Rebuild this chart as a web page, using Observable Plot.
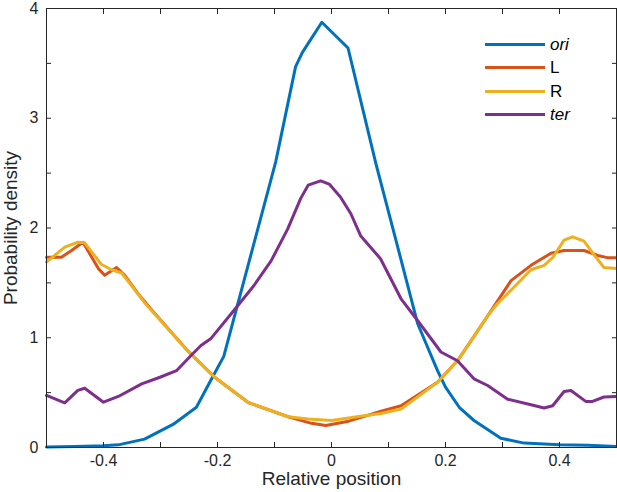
<!DOCTYPE html>
<html>
<head>
<meta charset="utf-8">
<script src="https://cdn.jsdelivr.net/npm/d3@7"></script>
<script src="https://cdn.jsdelivr.net/npm/@observablehq/plot@0.6"></script>
<style>
  html, body { margin: 0; padding: 0; background: #fff; }
  #wrap { position: relative; width: 617px; height: 492px; font-family: "Liberation Sans", Arial, sans-serif; }
  #legend { position: absolute; left: 485px; top: 33px; }
  .row { display: flex; align-items: center; height: 23.3px; }
  .sw { width: 60px; height: 3px; margin-right: 5px; }
  .lab { font-size: 17px; color: #000; line-height: 1; }
</style>
</head>
<body>
<div id="wrap"><div id="legend"></div></div>
<script>
// ---- data ----
const seriesNames = ["ori", "L", "R", "ter"];
const seriesColors = ["#0072BD", "#D95319", "#EDB120", "#7E2F8E"];

const oriX = [-0.5, -0.45, -0.4, -0.374, -0.328, -0.278, -0.237, -0.211, -0.189, -0.098, -0.063, -0.051, -0.017, 0.029, 0.078, 0.113, 0.151, 0.186, 0.2, 0.225, 0.25, 0.297, 0.338, 0.4, 0.45, 0.5];
const oriY = [0.005, 0.01, 0.015, 0.024, 0.076, 0.21, 0.367, 0.62, 0.83, 2.6, 3.47, 3.6, 3.875, 3.64, 2.585, 1.89, 1.13, 0.7, 0.55, 0.36, 0.246, 0.085, 0.04, 0.025, 0.02, 0.01];

const lX = [-0.5, -0.474, -0.456, -0.436, -0.409, -0.398, -0.377, -0.363, -0.339, -0.31, -0.252, -0.205, -0.146, -0.076, -0.035, -0.01, 0.03, 0.087, 0.122, 0.186, 0.221, 0.247, 0.274, 0.315, 0.35, 0.385, 0.408, 0.443, 0.467, 0.484, 0.5];
const lY = [1.734, 1.734, 1.795, 1.87, 1.63, 1.57, 1.64, 1.57, 1.4, 1.22, 0.88, 0.64, 0.41, 0.28, 0.22, 0.2, 0.24, 0.33, 0.38, 0.595, 0.79, 0.99, 1.2, 1.52, 1.66, 1.77, 1.795, 1.795, 1.75, 1.73, 1.73];

const rX = [-0.5, -0.468, -0.445, -0.433, -0.404, -0.386, -0.368, -0.351, -0.328, -0.252, -0.205, -0.146, -0.076, -0.041, 0, 0.057, 0.087, 0.122, 0.186, 0.221, 0.247, 0.274, 0.291, 0.32, 0.35, 0.373, 0.388, 0.408, 0.423, 0.443, 0.46, 0.478, 0.5];
const rY = [1.69, 1.825, 1.87, 1.865, 1.67, 1.62, 1.59, 1.476, 1.32, 0.88, 0.64, 0.41, 0.28, 0.26, 0.246, 0.29, 0.31, 0.35, 0.595, 0.79, 0.99, 1.2, 1.31, 1.46, 1.62, 1.66, 1.73, 1.89, 1.92, 1.88, 1.76, 1.64, 1.63];

const terX = [-0.5, -0.468, -0.445, -0.433, -0.4, -0.374, -0.333, -0.301, -0.272, -0.246, -0.229, -0.212, -0.171, -0.136, -0.106, -0.077, -0.054, -0.041, -0.019, -0.004, 0.016, 0.034, 0.051, 0.086, 0.122, 0.151, 0.192, 0.221, 0.25, 0.274, 0.309, 0.35, 0.373, 0.388, 0.408, 0.42, 0.446, 0.458, 0.478, 0.5];
const terY = [0.474, 0.407, 0.52, 0.54, 0.413, 0.465, 0.58, 0.64, 0.7, 0.84, 0.93, 0.99, 1.25, 1.476, 1.7, 1.99, 2.27, 2.39, 2.43, 2.4, 2.28, 2.13, 1.93, 1.72, 1.355, 1.157, 0.87, 0.79, 0.626, 0.565, 0.44, 0.39, 0.36, 0.38, 0.51, 0.52, 0.42, 0.42, 0.46, 0.465];

const xTicks = [-0.5, -0.4, -0.3, -0.2, -0.1, 0, 0.1, 0.2, 0.3, 0.4, 0.5];
const xTickLabels = [-0.4, -0.2, 0, 0.2, 0.4];
const yTicks = [0, 0.5, 1, 1.5, 2, 2.5, 3, 3.5, 4];
const yTickLabels = [0, 1, 2, 3, 4];
const xLabel = "Relative position";
const yLabel = "Probability density";

// ---- build table ----
const seriesData = [[oriX, oriY], [lX, lY], [rX, rY], [terX, terY]];
const rows = [];
seriesNames.forEach((name, i) => {
  const [xs, ys] = seriesData[i];
  xs.forEach((x, j) => rows.push({series: name, x, y: ys[j]}));
});

const ink = "#262626";
const chart = Plot.plot({
  width: 617,
  height: 492,
  marginLeft: 46,
  marginRight: 1,
  marginTop: 8,
  marginBottom: 45,
  style: {fontFamily: "'Liberation Sans', Arial, sans-serif", background: "white", color: ink},
  x: {domain: [-0.5, 0.5]},
  y: {domain: [0, 4]},
  color: {domain: seriesNames, range: seriesColors},
  marks: [
    Plot.line(rows, {x: "x", y: "y", z: "series", stroke: "series", strokeWidth: 3, strokeLinejoin: "round", curve: "linear"}),
    Plot.frame({stroke: ink, strokeWidth: 1}),
    Plot.axisX({ticks: xTicks, anchor: "bottom", tickSize: -5, tickFormat: () => "", label: null, stroke: ink}),
    Plot.axisX({ticks: xTicks, anchor: "top", tickSize: -5, tickFormat: () => "", label: null, stroke: ink}),
    Plot.axisY({ticks: yTicks, anchor: "left", tickSize: -5, tickFormat: () => "", label: null, stroke: ink}),
    Plot.axisY({ticks: yTicks, anchor: "right", tickSize: -5, tickFormat: () => "", label: null, stroke: ink}),
    Plot.axisX({ticks: xTickLabels, anchor: "bottom", tickSize: 0, tickPadding: 7, tickFormat: d => String(d), label: null, fontSize: 16, fill: ink}),
    Plot.axisY({ticks: yTickLabels, anchor: "left", tickSize: 0, tickPadding: 8, tickFormat: d => String(d), label: null, fontSize: 16, fill: ink}),
    Plot.text([xLabel], {text: d => d, frameAnchor: "bottom", textAnchor: "middle", lineAnchor: "middle", dy: 31, fontSize: 19, fill: ink}),
    Plot.text([yLabel], {text: d => d, frameAnchor: "left", textAnchor: "middle", lineAnchor: "middle", dx: -36, rotate: -90, fontSize: 19, fill: ink})
  ]
});
document.getElementById("wrap").prepend(chart);

// ---- legend ----
const legend = document.getElementById("legend");
seriesNames.forEach((name, i) => {
  const row = document.createElement("div");
  row.className = "row";
  const sw = document.createElement("div");
  sw.className = "sw";
  sw.style.background = seriesColors[i];
  const lab = document.createElement("span");
  lab.className = "lab";
  lab.textContent = name;
  if (name === "ori" || name === "ter") lab.style.fontStyle = "italic";
  row.appendChild(sw);
  row.appendChild(lab);
  legend.appendChild(row);
});
</script>
</body>
</html>
